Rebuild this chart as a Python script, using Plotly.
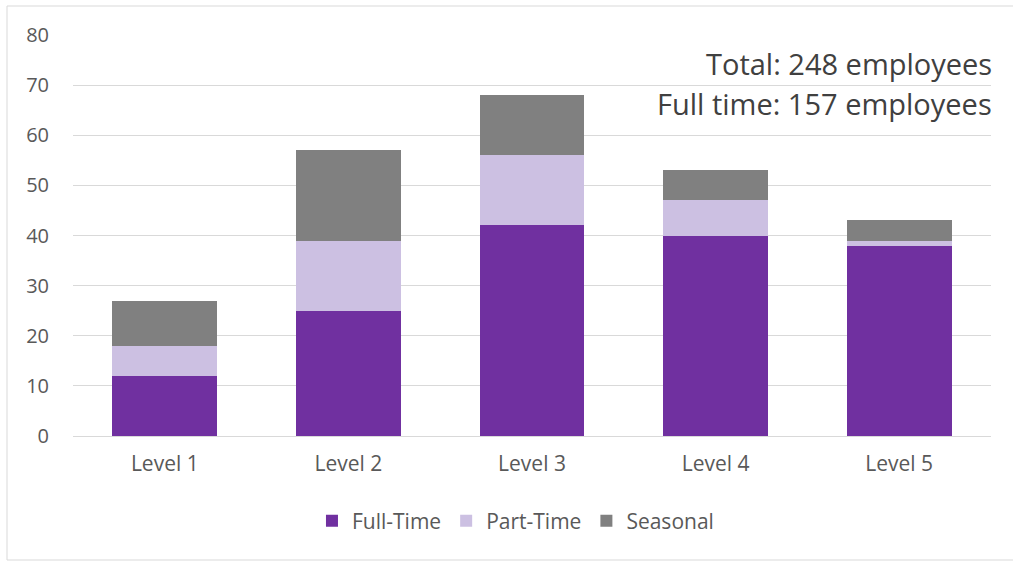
import plotly.graph_objects as go

# Headcount by level, split by employment type
levels = ["Level 1", "Level 2", "Level 3", "Level 4", "Level 5"]
full_time = [12, 25, 42, 40, 38]
part_time = [6, 14, 14, 7, 1]
seasonal = [9, 18, 12, 6, 4]

total_employees = sum(full_time) + sum(part_time) + sum(seasonal)
total_full_time = sum(full_time)

series = [
    ("Full-Time", full_time, "#7030A0"),
    ("Part-Time", part_time, "#CCC0E2"),
    ("Seasonal", seasonal, "#808080"),
]

fig = go.Figure()
for name, values, color in series:
    fig.add_trace(go.Bar(
        name=name,
        x=levels,
        y=values,
        marker=dict(color=color, line=dict(width=0)),
    ))

font_family = "'Open Sans', Lato, sans-serif"

fig.update_layout(
    barmode="stack",
    bargap=0.43,
    width=1013,
    height=562,
    margin=dict(l=73, r=22, t=35, b=126),
    paper_bgcolor="white",
    plot_bgcolor="white",
    font=dict(family=font_family, color="#595959", size=20),
    showlegend=True,
    legend=dict(
        orientation="h",
        x=0.482, xanchor="center",
        y=-0.212, yanchor="middle",
        font=dict(size=21, color="#595959"),
        traceorder="normal",
        itemwidth=30,
    ),
    xaxis=dict(
        showline=False,
        showgrid=False,
        ticks="",
        ticklabelstandoff=13,
        tickfont=dict(size=21, color="#595959"),
    ),
    yaxis=dict(
        range=[0, 80],
        dtick=10,
        showgrid=True,
        gridcolor="#D9D9D9",
        gridwidth=1,
        zeroline=True,
        zerolinecolor="#D9D9D9",
        zerolinewidth=1,
        ticks="",
        ticklabelstandoff=23,
        tickfont=dict(size=20, color="#595959"),
    ),
    shapes=[dict(
        type="rect", xref="paper", yref="paper",
        x0=-66 / 918, x1=1019 / 918,
        y0=-124 / 401, y1=1 + 29 / 401,
        line=dict(color="#D9D9D9", width=1),
        fillcolor="rgba(0,0,0,0)",
        layer="below",
    )],
    annotations=[
        dict(
            text=f"Total: {total_employees} employees",
            xref="paper", yref="y", x=1.003, y=74.4,
            xanchor="right", yanchor="middle", showarrow=False,
            font=dict(size=29, color="#404040", family=font_family),
        ),
        dict(
            text=f"Full time: {total_full_time} employees",
            xref="paper", yref="y", x=1.003, y=66.3,
            xanchor="right", yanchor="middle", showarrow=False,
            font=dict(size=29, color="#404040", family=font_family),
        ),
    ],
)

fig.write_html("out.html")
